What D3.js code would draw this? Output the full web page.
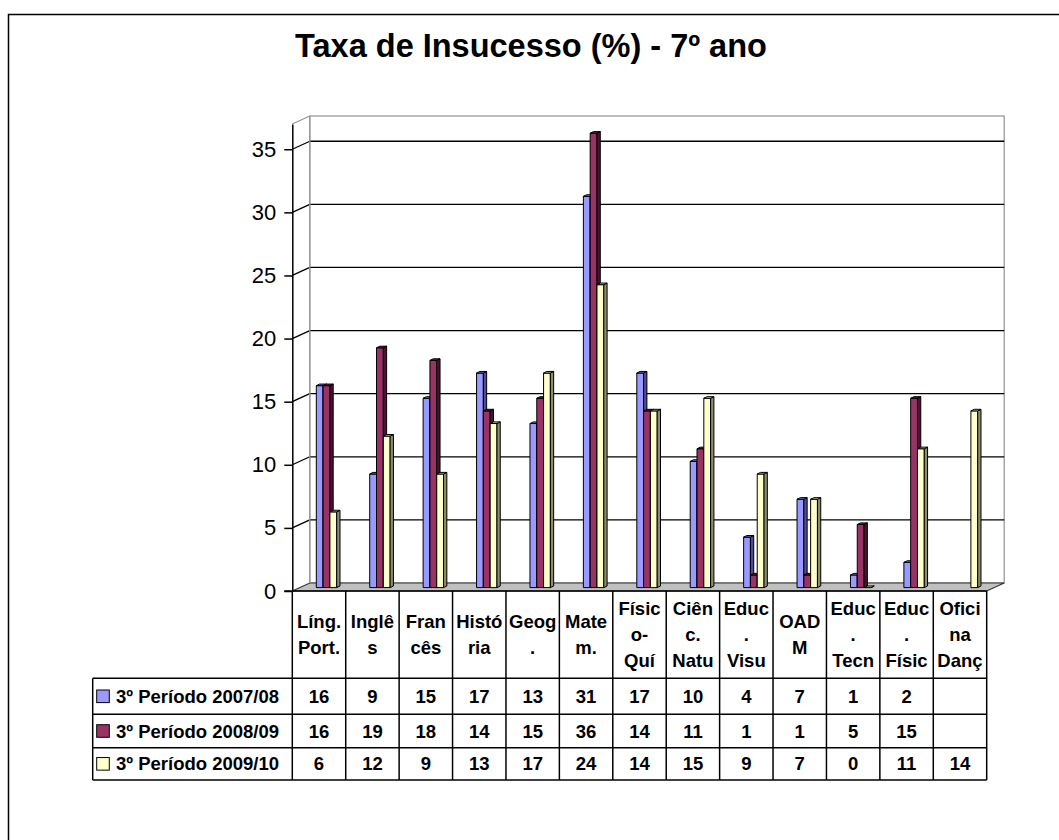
<!DOCTYPE html>
<html>
<head>
<meta charset="utf-8">
<script src="https://cdnjs.cloudflare.com/ajax/libs/d3/7.8.5/d3.min.js"></script>
<style>
  body { margin: 0; background: #fff; }
  svg text { font-family: Arial, "Liberation Sans", sans-serif; }
</style>
</head>
<body>
<div id="main"></div>
<script>
// categories, wrapped the way the chart's table shows them
var categories = ["Líng. Port.", "Inglês", "Francês", "História", "Geog.", "Matem.",
  "Físico-Quí", "Ciênc. Natu", "Educ. Visu", "OADM", "Educ. Tecn", "Educ. Físic", "Oficina Danç"];
var categoryLines = [["Líng.", "Port."], ["Inglê", "s"], ["Fran", "cês"], ["Histó", "ria"],
  ["Geog", "."], ["Mate", "m."], ["Físic", "o-", "Quí"], ["Ciên", "c.", "Natu"],
  ["Educ", ".", "Visu"], ["OAD", "M"], ["Educ", ".", "Tecn"], ["Educ", ".", "Físic"],
  ["Ofici", "na", "Danç"]];

var seriesNames = ["3º Período 2007/08", "3º Período 2008/09", "3º Período 2009/10"];
var values0708 = [16, 9, 15, 17, 13, 31, 17, 10, 4, 7, 1, 2, null];
var values0809 = [16, 19, 18, 14, 15, 36, 14, 11, 1, 1, 5, 15, null];
var values0910 = [6, 12, 9, 13, 17, 24, 14, 15, 9, 7, 0, 11, 14];
var yTicks = [0, 5, 10, 15, 20, 25, 30, 35];

var allValues = [values0708, values0809, values0910];
var fronts = ["#9999FF", "#993366", "#FFFFCC"];
var sides = ["#4d4d99", "#4a1430", "#8c8c6e"];
var tops = ["#7777dd", "#6e2248", "#d9d9a8"];

var W = 1059, H = 840;
var depthX = 17.5, depthY = -8;      // back wall offset
var midX = 7.5, midY = -3.4;         // where the bars stand
var barW = 6.8, sideX = 3.3, sideY = -1.6;
var tableFont = "18.5px";

var svg = d3.select("#main").append("svg")
  .attr("width", W)
  .attr("height", H);

// outer frame
svg.append("rect")
  .attr("x", 8.5).attr("y", 14.5)
  .attr("width", 1200).attr("height", 1000)
  .attr("fill", "none").attr("stroke", "#000").attr("stroke-width", 1.5);

svg.append("text")
  .attr("x", 531).attr("y", 57)
  .attr("text-anchor", "middle")
  .style("font-size", "32.5px").style("font-weight", "bold")
  .text("Taxa de Insucesso (%) - 7º ano");

var x = d3.scaleBand()
  .domain(d3.range(categories.length))
  .range([292.3, 986.7]);

var y = d3.scaleLinear()
  .domain([0, 37])
  .range([591, 124]);

var x0 = x.range()[0], x1 = x.range()[1];
var y0 = y(0), yTop = y(37);

// back wall
svg.append("rect")
  .attr("x", x0 + depthX).attr("y", yTop + depthY)
  .attr("width", x1 - x0).attr("height", y0 - yTop)
  .attr("fill", "#fff").attr("stroke", "#999").attr("stroke-width", 1.3);

// side wall top edge
svg.append("line")
  .attr("x1", x0).attr("y1", yTop)
  .attr("x2", x0 + depthX).attr("y2", yTop + depthY)
  .attr("stroke", "#999").attr("stroke-width", 1.3);

// floor
svg.append("path")
  .attr("d", "M" + x0 + "," + y0 + "L" + x1 + "," + y0 + "L" + (x1 + depthX) + "," + (y0 + depthY) +
    "L" + (x0 + depthX) + "," + (y0 + depthY) + "Z")
  .attr("fill", "#c0c0c0").attr("stroke", "#333").attr("stroke-width", 1.2);

// gridlines on wall + side
var grid = svg.append("g").selectAll("g")
  .data(yTicks.filter(function(t) { return t > 0; }))
  .enter().append("g");
grid.append("line")
  .attr("x1", x0 + depthX).attr("x2", x1 + depthX)
  .attr("y1", function(d) { return y(d) + depthY; })
  .attr("y2", function(d) { return y(d) + depthY; })
  .attr("stroke", "#000").attr("stroke-width", 1.3);
grid.append("line")
  .attr("x1", x0).attr("x2", x0 + depthX)
  .attr("y1", function(d) { return y(d); })
  .attr("y2", function(d) { return y(d) + depthY; })
  .attr("stroke", "#000").attr("stroke-width", 1.3);

// back wall left edge drawn again on top of the gridlines
svg.append("line")
  .attr("x1", x0 + depthX).attr("x2", x0 + depthX)
  .attr("y1", yTop + depthY).attr("y2", y0 + depthY)
  .attr("stroke", "#999").attr("stroke-width", 1.3);

// bars
var bars = [];
allValues.forEach(function(vals, k) {
  vals.forEach(function(v, i) {
    if (v === null) return;
    bars.push({ k: k, i: i, v: v });
  });
});

var barG = svg.append("g");
bars.forEach(function(d) {
  var cx = x(d.i) + x.bandwidth() / 2 + midX;
  var left = cx - 1.5 * barW + d.k * barW;
  var base = y(0) + midY;
  var top = y(d.v) + midY;
  var g = barG.append("g")
    .attr("stroke", "#000").attr("stroke-width", 1).attr("stroke-linejoin", "round");
  g.append("rect")
    .attr("x", left).attr("y", top)
    .attr("width", barW).attr("height", base - top)
    .attr("fill", fronts[d.k]);
  g.append("path")
    .attr("d", "M" + (left + barW) + "," + top + "L" + (left + barW + sideX) + "," + (top + sideY) +
      "L" + (left + barW + sideX) + "," + (base + sideY) + "L" + (left + barW) + "," + base + "Z")
    .attr("fill", sides[d.k]);
  g.append("path")
    .attr("d", "M" + left + "," + top + "L" + (left + sideX) + "," + (top + sideY) +
      "L" + (left + barW + sideX) + "," + (top + sideY) + "L" + (left + barW) + "," + top + "Z")
    .attr("fill", tops[d.k]);
});

// y axis
var yAxis = svg.append("g")
  .attr("transform", "translate(" + x0 + ",0)")
  .call(d3.axisLeft(y).tickValues(yTicks).tickSize(8).tickPadding(8).tickSizeOuter(0));
yAxis.select(".domain").attr("stroke", "#000").attr("stroke-width", 1.5);
yAxis.selectAll(".tick line").attr("stroke", "#000").attr("stroke-width", 1.5);
yAxis.selectAll(".tick text")
  .style("font-size", "22px").style("font-family", "Arial, 'Liberation Sans', sans-serif")
  .attr("fill", "#000");

// front edge of floor
svg.append("line")
  .attr("x1", x0 - 8).attr("x2", x1)
  .attr("y1", y0).attr("y2", y0)
  .attr("stroke", "#000").attr("stroke-width", 1.5);

// data table
var rowTops = [678.3, 714.3, 747.7, 780];
var legendLeft = 92.7;
var table = svg.append("g").attr("stroke", "#000").attr("stroke-width", 1.5);

x.domain().concat([categories.length]).forEach(function(i) {
  var xx = i < categories.length ? x(i) : x1;
  table.append("line")
    .attr("x1", xx).attr("x2", xx)
    .attr("y1", y0).attr("y2", rowTops[3]);
});
rowTops.forEach(function(ry) {
  table.append("line")
    .attr("x1", legendLeft).attr("x2", x1)
    .attr("y1", ry).attr("y2", ry);
});
table.append("line")
  .attr("x1", legendLeft).attr("x2", legendLeft)
  .attr("y1", rowTops[0]).attr("y2", rowTops[3]);

// header labels
var headerMid = (y0 + rowTops[0]) / 2;
categoryLines.forEach(function(lines, i) {
  var t = svg.append("text")
    .attr("text-anchor", "middle")
    .style("font-size", tableFont).style("font-weight", "bold");
  lines.forEach(function(line, j) {
    t.append("tspan")
      .attr("x", x(i) + x.bandwidth() / 2)
      .attr("y", headerMid + (j - (lines.length - 1) / 2) * 26 + 6.5)
      .text(line);
  });
});

// rows
seriesNames.forEach(function(name, k) {
  var mid = (rowTops[k] + rowTops[k + 1]) / 2;
  svg.append("rect")
    .attr("x", 96.7).attr("y", mid - 6.3)
    .attr("width", 12.6).attr("height", 12.6)
    .attr("fill", fronts[k]).attr("stroke", "#000").attr("stroke-width", 1);
  svg.append("text")
    .attr("x", 116).attr("y", mid + 6.5)
    .style("font-size", tableFont).style("font-weight", "bold")
    .text(name);
  allValues[k].forEach(function(v, i) {
    if (v === null) return;
    svg.append("text")
      .attr("x", x(i) + x.bandwidth() / 2)
      .attr("y", mid + 6.5)
      .attr("text-anchor", "middle")
      .style("font-size", tableFont).style("font-weight", "bold")
      .text(v);
  });
});
</script>
</body>
</html>
